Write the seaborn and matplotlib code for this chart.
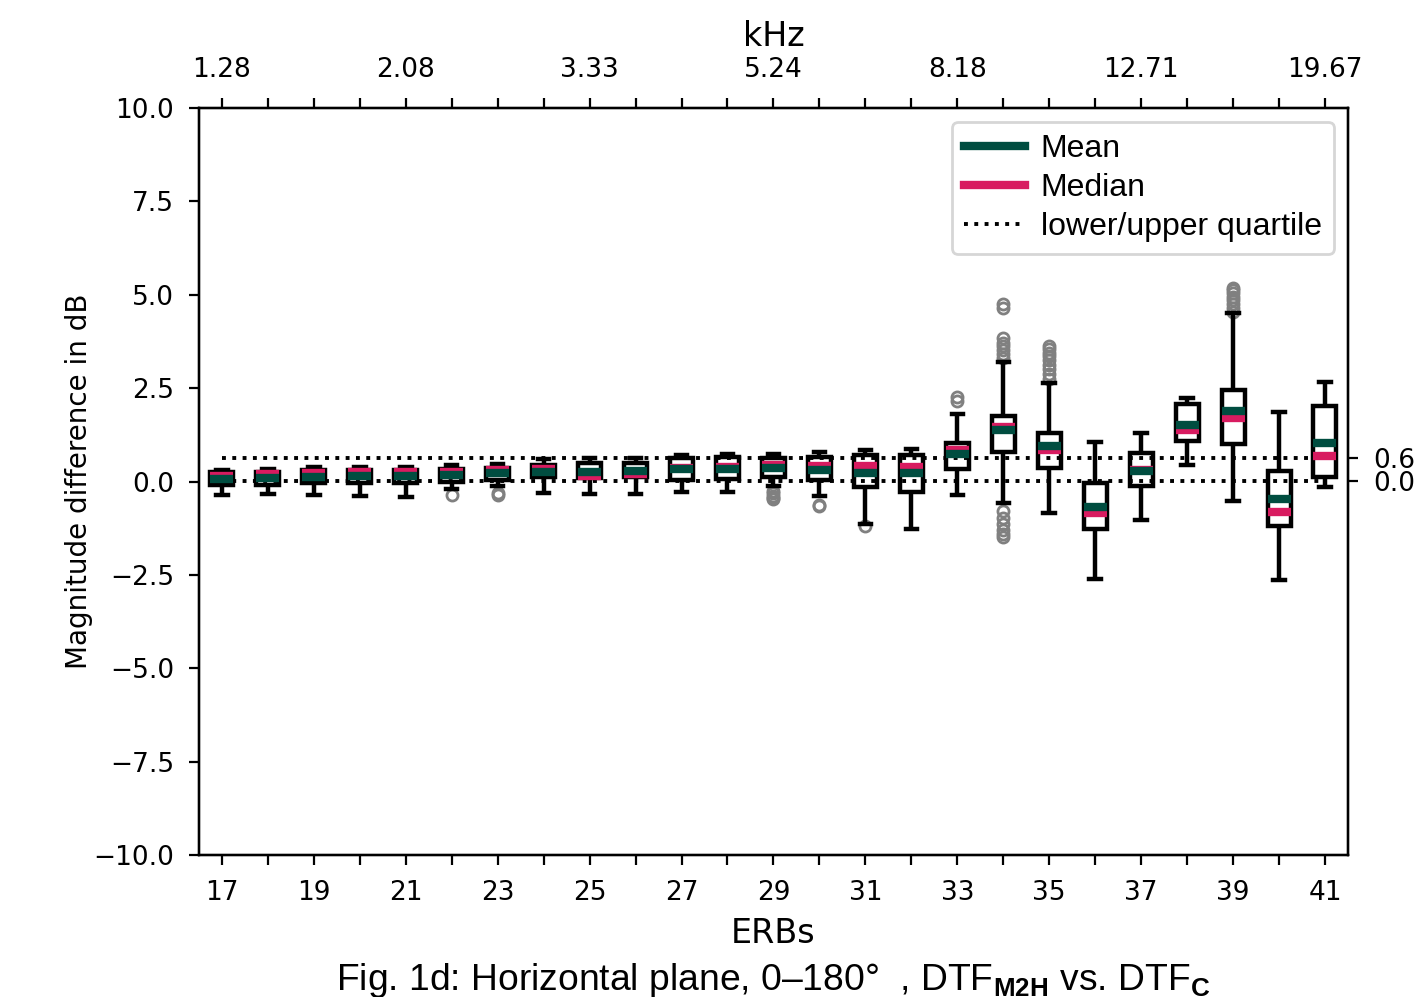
import matplotlib
matplotlib.use('Agg')
import matplotlib.pyplot as plt
from matplotlib.lines import Line2D
import seaborn as sns
import pandas as pd
import numpy as np

# ERB bands on the x axis
erbs = list(range(17, 42))

# box statistics per ERB (dB)
lower_whisker = [-0.36, -0.33, -0.36, -0.39, -0.42, -0.21, -0.12, -0.32, -0.33, -0.33, -0.29, -0.27, -0.12,
                 -0.40, -1.15, -1.27, -0.36, -0.57, -0.83, -2.61, -1.03, 0.45, -0.52, -2.65, -0.14]
q1 = [-0.09, -0.09, -0.05, -0.05, -0.05, 0.00, 0.04, 0.13, 0.09, 0.13, 0.04, 0.06, 0.13,
      0.04, -0.14, -0.27, 0.34, 0.78, 0.35, -1.28, -0.12, 1.09, 1.01, -1.18, 0.11]
median = [0.15, 0.19, 0.24, 0.26, 0.25, 0.26, 0.30, 0.33, 0.16, 0.20, 0.35, 0.38, 0.44,
          0.41, 0.41, 0.40, 0.84, 1.47, 0.83, -0.85, 0.30, 1.38, 1.71, -0.82, 0.67]
q3 = [0.26, 0.26, 0.30, 0.32, 0.30, 0.33, 0.36, 0.44, 0.50, 0.50, 0.62, 0.66, 0.62,
      0.66, 0.71, 0.71, 1.02, 1.75, 1.29, -0.03, 0.77, 2.07, 2.45, 0.29, 2.01]
upper_whisker = [0.31, 0.33, 0.38, 0.38, 0.38, 0.44, 0.47, 0.59, 0.62, 0.63, 0.71, 0.74, 0.74,
                 0.80, 0.84, 0.87, 1.81, 3.21, 2.63, 1.05, 1.29, 2.24, 4.52, 1.86, 2.67]
mean = [0.06, 0.09, 0.13, 0.15, 0.15, 0.17, 0.22, 0.26, 0.25, 0.28, 0.33, 0.33, 0.35,
        0.31, 0.22, 0.24, 0.73, 1.38, 0.96, -0.69, 0.29, 1.50, 1.90, -0.47, 1.04]

# outliers per ERB
outliers = {
    22: [-0.37],
    23: [-0.31, -0.36],
    29: [-0.25, -0.32, -0.38, -0.43, -0.47],
    30: [-0.62, -0.66],
    31: [-1.18],
    33: [2.15, 2.25],
    34: [3.3, 3.42, 3.52, 3.62, 3.72, 3.85, 4.65, 4.75, -0.8, -0.98, -1.15, -1.3, -1.4, -1.48],
    35: [2.75, 2.88, 3.0, 3.12, 3.25, 3.35, 3.45, 3.55, 3.62],
    39: [4.55, 4.65, 4.75, 4.85, 4.95, 5.05, 5.12, 5.18],
}

# overall lower / upper quartile
quartiles = [0.02, 0.63]

# top axis: frequency in kHz
khz_ticks = [17, 21, 25, 29, 33, 37, 41]
khz_labels = ['1.28', '2.08', '3.33', '5.24', '8.18', '12.71', '19.67']

mean_color = '#004D40'
median_color = '#D81B60'

plt.rcParams['font.family'] = ['DejaVu Sans']
plt.rcParams['mathtext.fontset'] = 'custom'
plt.rcParams['mathtext.rm'] = 'Liberation Sans'
plt.rcParams['mathtext.bf'] = 'Liberation Sans:bold'

# long table: five points per box give exactly the quartiles and whisker ends
rows = []
for i, e in enumerate(erbs):
    for v in [lower_whisker[i], q1[i], median[i], q3[i], upper_whisker[i]]:
        rows.append({'erb': e, 'val': v})
df = pd.DataFrame(rows)

fig = plt.figure(figsize=(7.09, 4.985), dpi=200)
ax = fig.add_axes([0.1403, 0.1424, 0.8103, 0.7493])

lw = 1.6
thick = 3.0
sns.boxplot(data=df, x='erb', y='val', native_scale=True, whis=(0, 100), width=0.5,
            showfliers=False, color='white', linecolor='black', linewidth=lw,
            medianprops=dict(color=median_color, linewidth=thick, zorder=4),
            ax=ax)

# outliers
for e, vals in outliers.items():
    ax.plot([e] * len(vals), vals, 'o', mfc='none', mec='gray', ms=4, mew=1.0, zorder=1.5)

# mean lines over the box width
erb_arr = np.array(erbs)
ax.hlines(mean, erb_arr - 0.25, erb_arr + 0.25, colors=mean_color, linewidth=thick, zorder=5)

# quartile reference lines
ax.hlines(quartiles, erbs[0], erbs[-1], colors='black', linestyles=':', linewidth=1.4, zorder=3)

ax.set_xlim(16.5, 41.5)
ax.set_ylim(-10, 10)
ax.set_yticks(np.arange(-10, 10.1, 2.5))
ax.set_xticks(erbs)
ax.set_xticklabels([str(e) if (e - 17) % 2 == 0 else '' for e in erbs])
ax.tick_params(labelsize=9.5, pad=5.5)
ax.set_xlabel('ERBs', fontsize=12)
ax.set_ylabel('Magnitude difference in dB', fontsize=10, labelpad=0)

handles = [Line2D([], [], color=mean_color, linewidth=thick),
           Line2D([], [], color=median_color, linewidth=thick),
           Line2D([], [], color='black', linestyle=':', linewidth=1.4)]
ax.legend(handles, ['Mean', 'Median', 'lower/upper quartile'], loc='upper right',
          prop={'family': 'Liberation Sans', 'size': 11.5},
          handlelength=1.9, handletextpad=0.5, labelspacing=0.28,
          borderpad=0.38, borderaxespad=0.44)

# top axis in kHz
ax_top = ax.twiny()
ax_top.set_xlim(ax.get_xlim())
ax_top.set_xticks(erbs)
ax_top.set_xticklabels([khz_labels[khz_ticks.index(e)] if e in khz_ticks else '' for e in erbs])
ax_top.tick_params(labelsize=9.5, pad=5.5)
ax_top.set_xlabel('kHz', fontsize=12)

# right axis marks the quartile values
ax_right = ax.twinx()
ax_right.set_ylim(ax.get_ylim())
ax_right.set_yticks(quartiles)
ax_right.set_yticklabels([f'{q:.1f}' for q in quartiles])
ax_right.tick_params(labelsize=9.5, pad=5.5)

fig.text(0.1403 + 0.8103 / 2, 0.007,
         r'Fig. 1d: Horizontal plane, 0–180°  , DTF$_{\mathbf{M2H}}$ vs. DTF$_{\mathbf{C}}$',
         ha='center', va='baseline', fontsize=13.4, family='Liberation Sans')

fig.savefig('out.png', dpi=200)
